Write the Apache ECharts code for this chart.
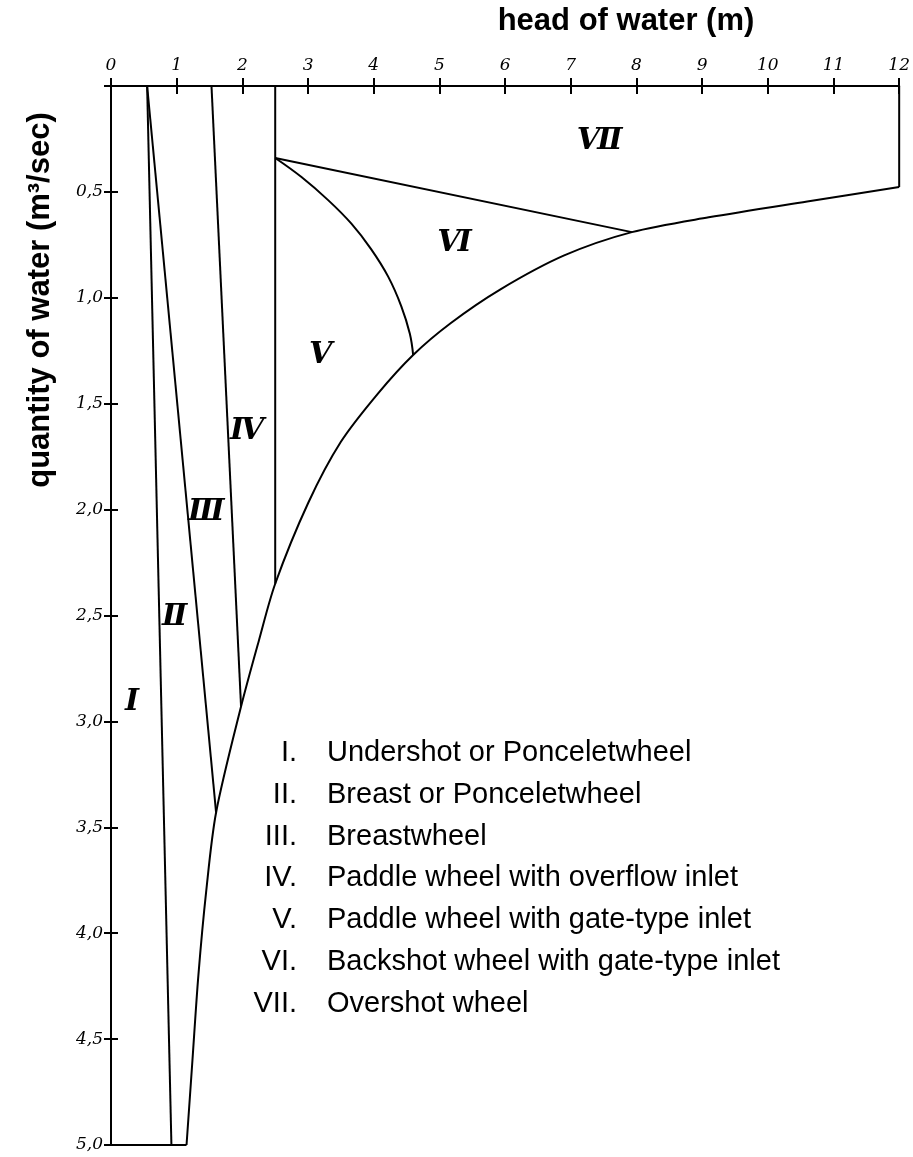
<!DOCTYPE html>
<html>
<head>
<meta charset="utf-8">
<script src="https://cdn.jsdelivr.net/npm/echarts@6/dist/echarts.min.js"></script>
<style>
  html, body { margin: 0; padding: 0; background: #fff; }
  #chart { width: 913px; height: 1157px; }
</style>
</head>
<body>
<div id="chart"></div>
<script>
// Axis ranges: head of water (m) across the top, quantity of water (m³/s) downwards
const headMin = 0, headMax = 12, headStep = 1;
const flowMin = 0, flowMax = 5, flowStep = 0.5;

// Limit curve of the wheel types, points [head, quantity], low head to high head
const limitCurve = [
  [1.15, 5.0], [1.24, 4.6], [1.33, 4.2], [1.45, 3.8], [1.6, 3.43],
  [1.98, 2.93], [2.25, 2.62], [2.5, 2.35], [3.0, 1.97], [3.5, 1.68],
  [4.07, 1.45], [4.6, 1.27], [5.17, 1.12], [5.93, 0.96], [6.9, 0.80],
  [7.93, 0.69], [9.1, 0.62], [10.6, 0.545], [12.0, 0.477]
];

// Boundaries between neighbouring wheel types
const lineI_II = [[0.55, 0], [0.92, 5.0]];
const lineII_III = [[0.55, 0], [1.6, 3.43]];
const lineIII_IV = [[1.53, 0], [1.98, 2.93]];
const lineIV_V = [[2.5, 0], [2.5, 2.35]];
const lineVI_VII = [[2.5, 0.34], [7.93, 0.69]];
const arcV_VI = [
  [2.5, 0.34], [2.9, 0.43], [3.31, 0.54], [3.66, 0.65], [3.96, 0.77],
  [4.22, 0.90], [4.42, 1.04], [4.55, 1.17], [4.6, 1.27]
];
const edgeRight = [[12, 0], [12, 0.477]];
const edgeBottom = [[0, 5.0], [1.15, 5.0]];

// Field labels, placed at [head, quantity]
const fieldNames = ['Ⅰ', 'Ⅱ', 'Ⅲ', 'Ⅳ', 'Ⅴ', 'Ⅵ', 'Ⅶ'];
const fieldSpots = [
  [0.32, 2.91], [0.97, 2.51], [1.45, 2.01], [2.07, 1.63],
  [3.19, 1.27], [5.23, 0.74], [7.44, 0.26]
];

// Key
const keyNumerals = ['I.', 'II.', 'III.', 'IV.', 'V.', 'VI.', 'VII.'];
const keyTexts = [
  'Undershot or Ponceletwheel',
  'Breast or Ponceletwheel',
  'Breastwheel',
  'Paddle wheel with overflow inlet',
  'Paddle wheel with gate-type inlet',
  'Backshot wheel with gate-type inlet',
  'Overshot wheel'
];

const ink = '#000';
const tickFont = { color: ink, fontFamily: 'DejaVu Serif', fontStyle: 'italic', fontSize: 17 };
const keyFont = '29px "Liberation Sans"';
const titleFont = 'bold 31px "Liberation Sans"';

function boundary(data, smooth) {
  return {
    type: 'line', data: data, showSymbol: false, silent: true,
    smooth: smooth || false,
    lineStyle: { color: ink, width: 2 }
  };
}

const chart = echarts.init(document.getElementById('chart'), null, { renderer: 'canvas' });

const keyGraphics = [];
keyTexts.forEach(function (t, i) {
  const y = 753 + i * 41.8;
  keyGraphics.push({
    type: 'text', x: 297, y: y,
    style: { text: keyNumerals[i], fill: ink, font: keyFont, textAlign: 'right', textVerticalAlign: 'middle' }
  });
  keyGraphics.push({
    type: 'text', x: 327, y: y,
    style: { text: t, fill: ink, font: keyFont, textAlign: 'left', textVerticalAlign: 'middle' }
  });
});

chart.setOption({
  backgroundColor: '#fff',
  animation: false,
  grid: { left: 111, right: 9, top: 86, bottom: 12, containLabel: false },
  xAxis: [
    {
      type: 'value', position: 'top', min: headMin, max: headMax, interval: headStep,
      axisLine: { show: true, lineStyle: { color: ink, width: 2 } },
      axisTick: { show: true, inside: false, length: 8, lineStyle: { color: ink, width: 2 } },
      axisLabel: Object.assign({ margin: 12 }, tickFont),
      splitLine: { show: false }
    },
    {
      type: 'value', position: 'top', min: headMin, max: headMax, interval: headStep,
      axisLine: { show: false },
      axisTick: { show: true, inside: true, length: 8, lineStyle: { color: ink, width: 2 } },
      axisLabel: { show: false },
      splitLine: { show: false }
    }
  ],
  yAxis: [
    {
      type: 'value', inverse: true, position: 'left', min: flowMin, max: flowMax, interval: flowStep,
      axisLine: { show: true, lineStyle: { color: ink, width: 2 } },
      axisTick: { show: true, inside: false, length: 7, lineStyle: { color: ink, width: 2 } },
      axisLabel: Object.assign({
        margin: 8,
        formatter: function (v) { return v === 0 ? '' : v.toFixed(1).replace('.', ','); }
      }, tickFont),
      splitLine: { show: false }
    },
    {
      type: 'value', inverse: true, position: 'left', min: flowMin, max: flowMax, interval: flowStep,
      axisLine: { show: false },
      axisTick: { show: true, inside: true, length: 7, lineStyle: { color: ink, width: 2 } },
      axisLabel: { show: false },
      splitLine: { show: false }
    }
  ],
  series: [
    boundary(limitCurve, 0.3),
    boundary(lineI_II),
    boundary(lineII_III),
    boundary(lineIII_IV),
    boundary(lineIV_V),
    boundary(lineVI_VII),
    boundary(arcV_VI, 0.4),
    boundary(edgeRight),
    boundary(edgeBottom),
    {
      type: 'scatter', silent: true, symbolSize: 0,
      itemStyle: { color: ink, opacity: 1 },
      data: fieldSpots.map(function (p, i) { return { value: p, name: fieldNames[i] }; }),
      label: {
        show: true, position: 'inside', formatter: '{b}', color: ink,
        textBorderWidth: 0, opacity: 1,
        fontFamily: 'DejaVu Serif', fontStyle: 'italic', fontWeight: 'bold', fontSize: 30
      },
      labelLayout: { hideOverlap: false }
    }
  ],
  graphic: [
    {
      type: 'text', x: 626, y: 21,
      style: { text: 'head of water (m)', fill: ink, font: titleFont, textAlign: 'center', textVerticalAlign: 'middle' }
    },
    {
      type: 'text', x: 40, y: 300, rotation: Math.PI / 2,
      style: { text: 'quantity of water (m³/sec)', fill: ink, font: titleFont, textAlign: 'center', textVerticalAlign: 'middle' }
    }
  ].concat(keyGraphics)
});
</script>
</body>
</html>
